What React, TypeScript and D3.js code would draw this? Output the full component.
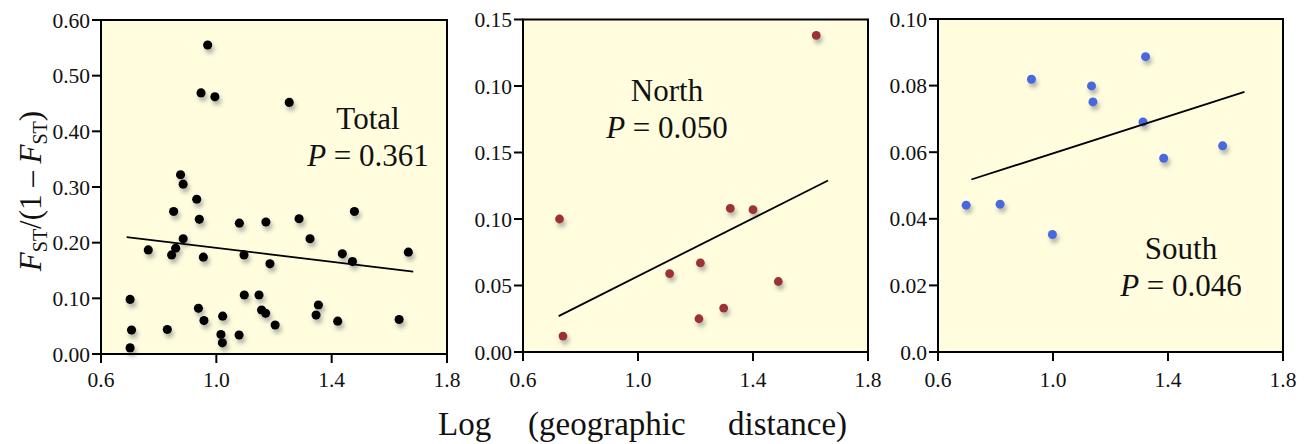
import React from "react";
import * as d3 from "d3";

// ---- Data ----
const totalX = [0.970, 0.947, 0.995, 1.253, 0.876, 0.885, 0.932, 0.852, 0.941, 1.080, 1.172, 1.287, 1.479, 1.325, 0.885, 0.764, 0.859, 0.845, 0.955, 1.096, 1.186, 1.437, 1.472, 1.666, 0.701, 0.706, 0.701, 0.830, 0.938, 0.957, 1.022, 1.016, 1.021, 1.079, 1.097, 1.148, 1.157, 1.171, 1.204, 1.354, 1.346, 1.421, 1.634];
const totalY = [0.555, 0.469, 0.462, 0.452, 0.322, 0.305, 0.278, 0.256, 0.242, 0.235, 0.237, 0.243, 0.256, 0.207, 0.207, 0.187, 0.190, 0.178, 0.174, 0.178, 0.162, 0.180, 0.166, 0.183, 0.098, 0.043, 0.011, 0.044, 0.082, 0.060, 0.068, 0.035, 0.020, 0.034, 0.106, 0.106, 0.079, 0.073, 0.052, 0.088, 0.070, 0.059, 0.062];
const totalLineX = [0.689, 1.683];
const totalLineY = [0.210, 0.148];

// North values are given in axis position units (the axis labels repeat 0.10/0.15)
const northX = [1.620, 0.727, 0.739, 1.110, 1.217, 1.212, 1.298, 1.321, 1.400, 1.488];
const northY = [0.238, 0.100, 0.012, 0.059, 0.067, 0.025, 0.033, 0.108, 0.107, 0.053];
const northLineX = [0.724, 1.661];
const northLineY = [0.027, 0.129];

const southX = [0.698, 0.816, 0.925, 0.998, 1.134, 1.139, 1.322, 1.313, 1.385, 1.590];
const southY = [0.0441, 0.0444, 0.0819, 0.0353, 0.0799, 0.0751, 0.0887, 0.0691, 0.0582, 0.0619];
const southLineX = [0.716, 1.666];
const southLineY = [0.0518, 0.0781];

const xTicks = [0.6, 1.0, 1.4, 1.8];
const xTickLabels = ["0.6", "1.0", "1.4", "1.8"];
const totalTicks = [0, 0.1, 0.2, 0.3, 0.4, 0.5, 0.6];
const totalTickLabels = ["0.00", "0.10", "0.20", "0.30", "0.40", "0.50", "0.60"];
const northTicks = [0, 0.05, 0.1, 0.15, 0.2, 0.25];
const northTickLabels = ["0.00", "0.05", "0.10", "0.15", "0.10", "0.15"];
const southTicks = [0, 0.02, 0.04, 0.06, 0.08, 0.1];
const southTickLabels = ["0.0", "0.02", "0.04", "0.06", "0.08", "0.10"];

const panelNames = ["Total", "North", "South"];
const panelP = ["0.361", "0.050", "0.046"];

const FONT = "'Liberation Serif', 'Times New Roman', serif";

type PanelProps = {
  left: number; right: number; top: number; bottom: number;
  yMax: number; ticks: number[]; tickLabels: string[];
  xs: number[]; ys: number[]; lx: number[]; ly: number[];
  color: string; r: number;
  name: string; p: string; labelX: number; labelY1: number; labelY2: number;
};

function Panel(pr: PanelProps) {
  const x = d3.scaleLinear().domain([0.6, 1.8]).range([pr.left, pr.right]);
  const y = d3.scaleLinear().domain([0, pr.yMax]).range([pr.bottom, pr.top]);
  const line = d3.line<number>().x((d, i) => x(pr.lx[i])).y((d, i) => y(pr.ly[i]));
  return (
    <g>
      <rect x={pr.left} y={pr.top} width={pr.right - pr.left} height={pr.bottom - pr.top} fill="#FFFDDE" />
      {pr.ticks.map((t, i) => (
        <g key={"y" + i}>
          <line x1={pr.left - 9} x2={pr.left} y1={y(t)} y2={y(t)} stroke="#000" strokeWidth={2} />
          <text x={pr.left - 11} y={y(t)} dy="0.35em" textAnchor="end" fontSize={21.5} fontFamily={FONT} fill="#111">{pr.tickLabels[i]}</text>
        </g>
      ))}
      {xTicks.map((t, i) => (
        <g key={"x" + i}>
          <line x1={x(t)} x2={x(t)} y1={pr.bottom} y2={pr.bottom + 9} stroke="#000" strokeWidth={2} />
          <text x={x(t)} y={387} textAnchor="middle" fontSize={21.5} fontFamily={FONT} fill="#111">{xTickLabels[i]}</text>
        </g>
      ))}
      <g filter="url(#shadow)">
        {pr.xs.map((v, i) => (
          <circle key={i} cx={x(v)} cy={y(pr.ys[i])} r={pr.r} fill={pr.color} />
        ))}
      </g>
      <path d={line(pr.lx) || ""} stroke="#000" strokeWidth={1.8} fill="none" />
      <rect x={pr.left} y={pr.top} width={pr.right - pr.left} height={pr.bottom - pr.top} fill="none" stroke="#000" strokeWidth={2} />
      <text x={pr.labelX} y={pr.labelY1} textAnchor="middle" fontSize={31} fontFamily={FONT} fill="#111">{pr.name}</text>
      <text x={pr.labelX} y={pr.labelY2} textAnchor="middle" fontSize={31} fontFamily={FONT} fill="#111">
        <tspan fontStyle="italic">P</tspan> = {pr.p}
      </text>
    </g>
  );
}

export default function App() {
  return (
    <div style={{ position: "absolute", left: 0, top: 0 }}>
      <svg width={1305} height={444} style={{ display: "block", background: "#fff" }}>
        <defs>
          <filter id="shadow" x="-50%" y="-50%" width="200%" height="200%">
            <feDropShadow dx={2} dy={4} stdDeviation={2} floodColor="#777" floodOpacity={0.55} />
          </filter>
        </defs>
        <Panel left={101} right={447} top={20} bottom={354} yMax={0.6} ticks={totalTicks} tickLabels={totalTickLabels}
          xs={totalX} ys={totalY} lx={totalLineX} ly={totalLineY} color="#000" r={4.6}
          name={panelNames[0]} p={panelP[0]} labelX={368} labelY1={129} labelY2={166} />
        <Panel left={523} right={868} top={19.5} bottom={352} yMax={0.25} ticks={northTicks} tickLabels={northTickLabels}
          xs={northX} ys={northY} lx={northLineX} ly={northLineY} color="#9B3035" r={4.4}
          name={panelNames[1]} p={panelP[1]} labelX={667} labelY1={101} labelY2={138} />
        <Panel left={938} right={1283} top={19} bottom={352} yMax={0.1} ticks={southTicks} tickLabels={southTickLabels}
          xs={southX} ys={southY} lx={southLineX} ly={southLineY} color="#4A68DD" r={4.5}
          name={panelNames[2]} p={panelP[2]} labelX={1181} labelY1={259} labelY2={296} />
        <g fontSize={33} fontFamily={FONT} fill="#111">
          <text x={438} y={435}>Log</text>
          <text x={528} y={435}>(geographic</text>
          <text x={728} y={435}>distance)</text>
        </g>
        <text transform="translate(41,191) rotate(-90)" textAnchor="middle" fontSize={31} fontFamily={FONT} fill="#111">
          <tspan fontStyle="italic">F</tspan><tspan fontSize={20} dy={6}>ST</tspan><tspan dy={-6}>/(1 – </tspan><tspan fontStyle="italic">F</tspan><tspan fontSize={20} dy={6}>ST</tspan><tspan dy={-6}>)</tspan>
        </text>
      </svg>
    </div>
  );
}
